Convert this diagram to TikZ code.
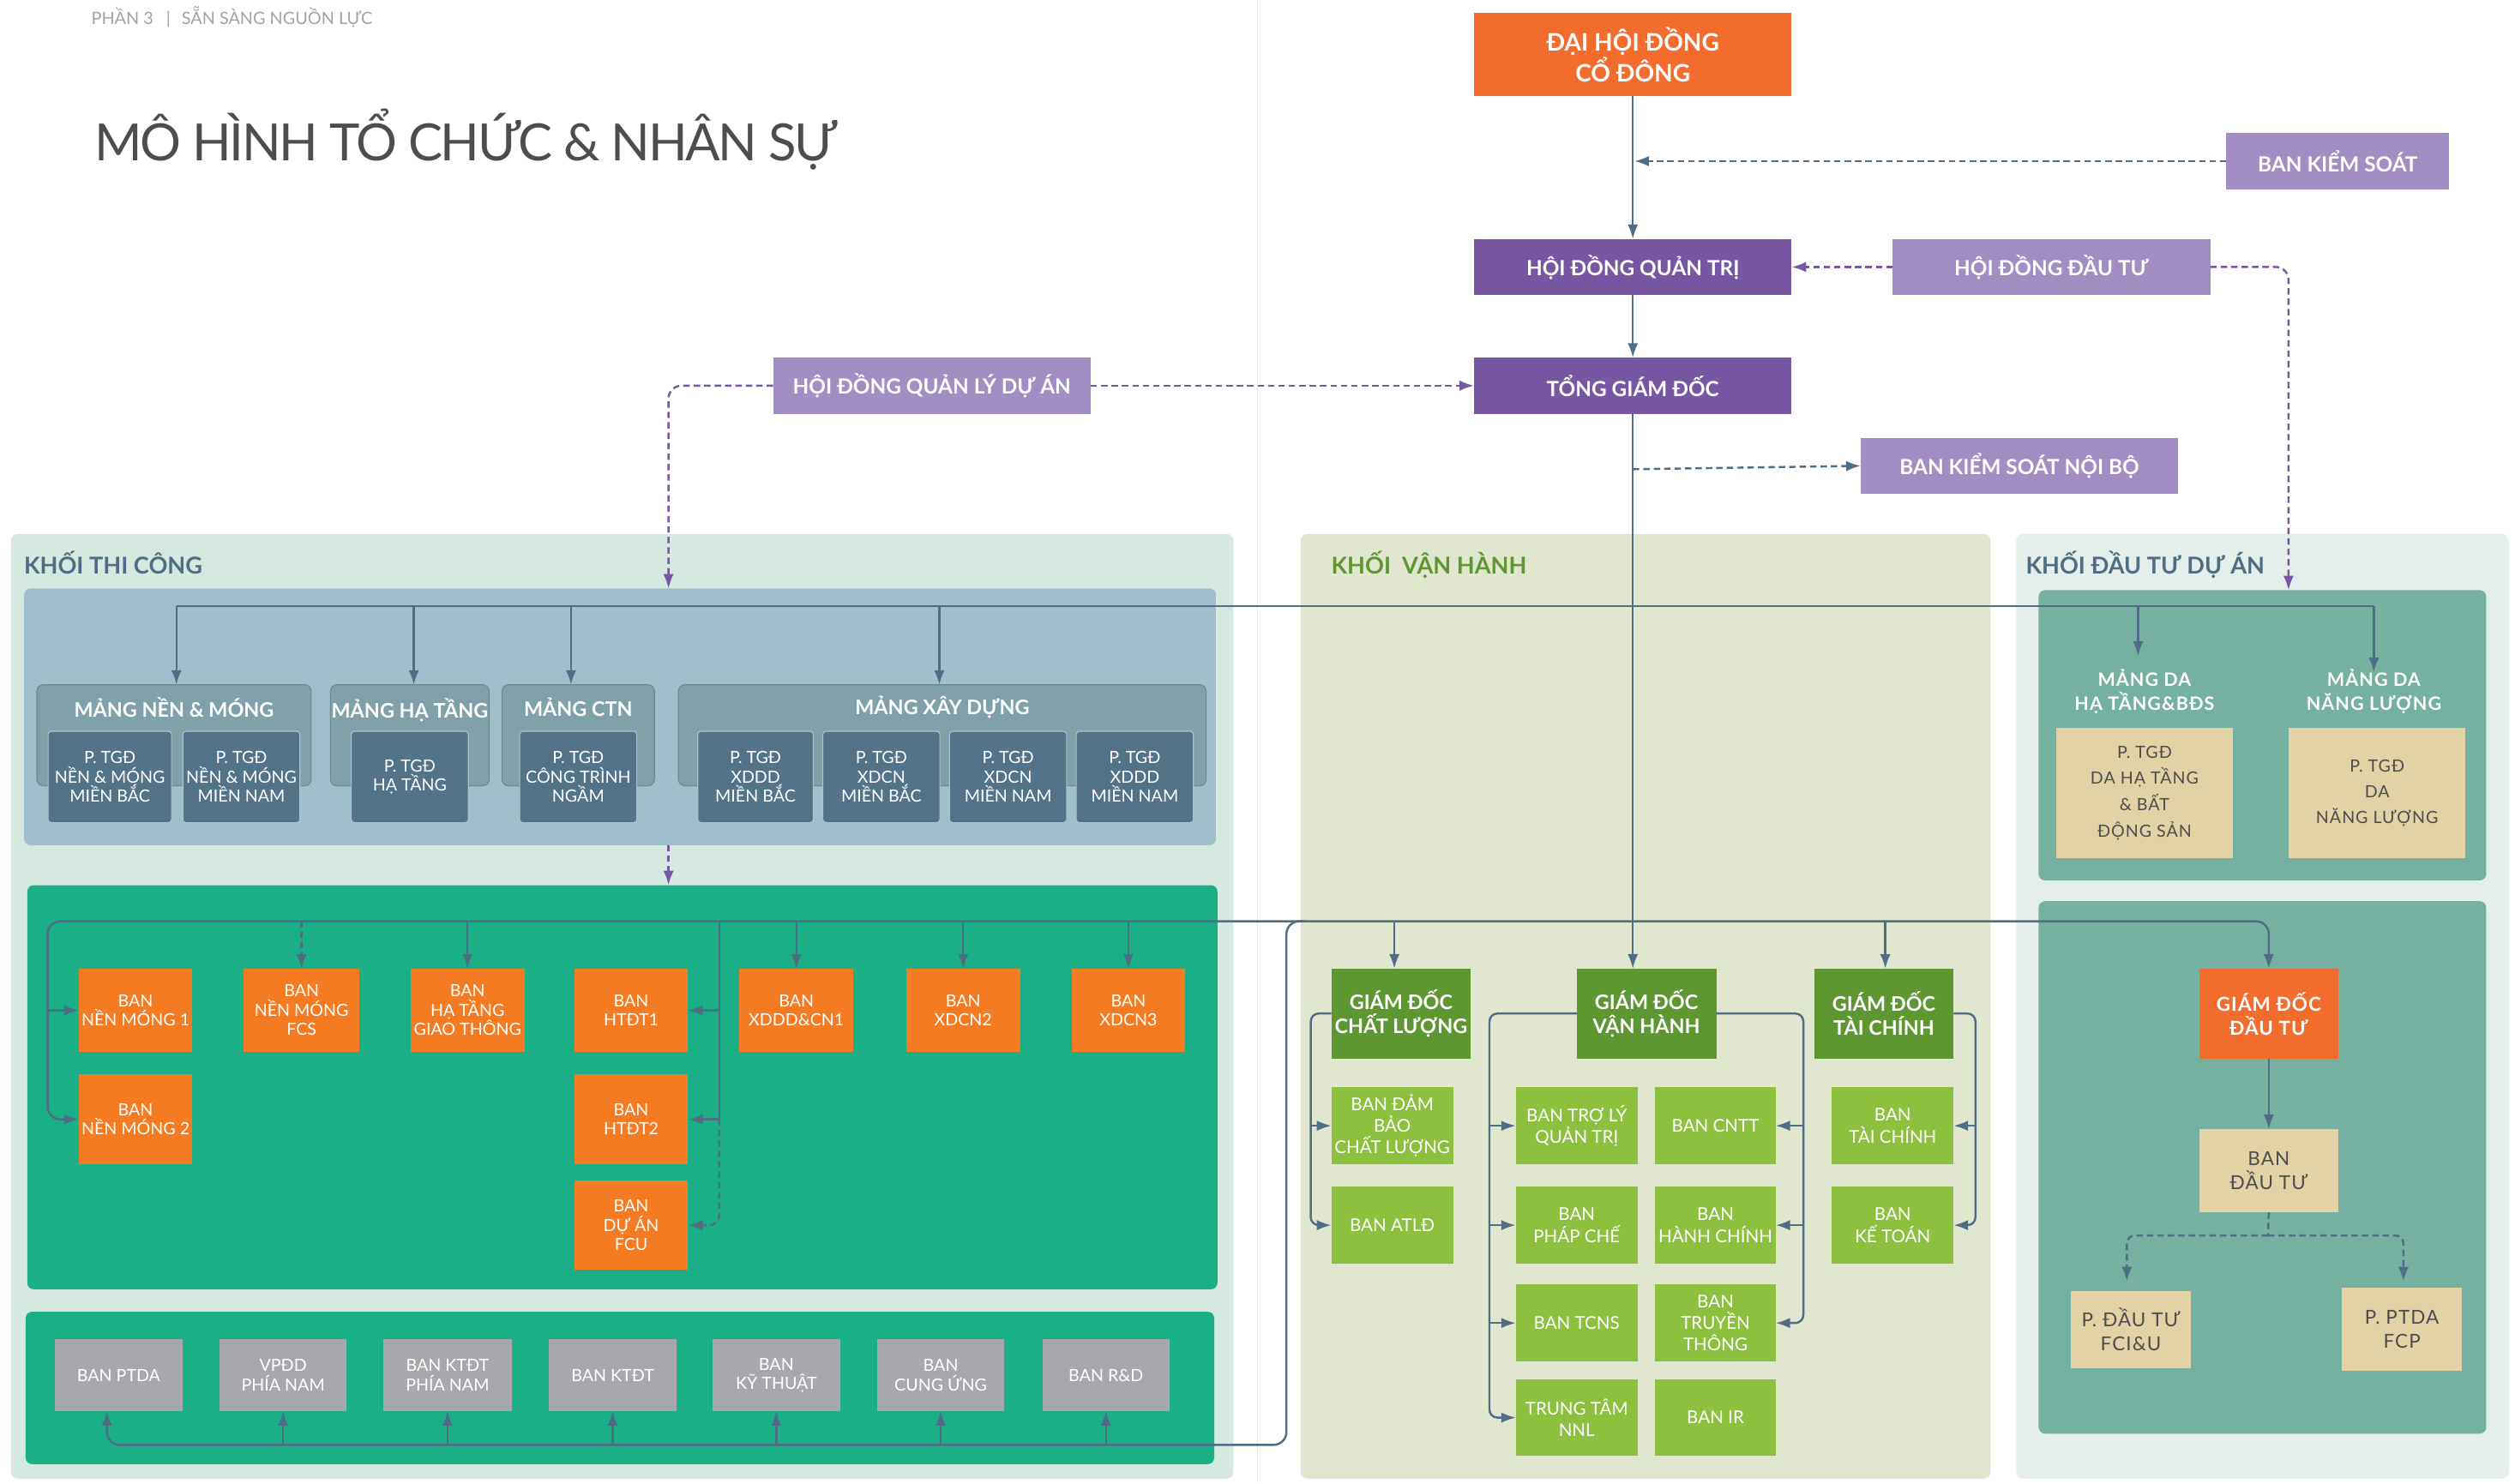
\documentclass[tikz,border=0pt]{standalone}
\usepackage{fontspec}
\setmainfont{Lato}
\newfontfamily\widelato[LetterSpace=5]{Lato}
\newfontfamily\titlelato[LetterSpace=-4]{Lato}
\usetikzlibrary{arrows.meta}

\definecolor{cOrange}{HTML}{F26C2D}
\definecolor{cPurple}{HTML}{7857A2}
\definecolor{cLilac}{HTML}{A28EC2}
\definecolor{cSlate}{HTML}{4F6D84}
\definecolor{cMint}{HTML}{D5E9E0}
\definecolor{cSteel}{HTML}{9EBFCB}
\definecolor{cGroup}{HTML}{80A1AA}
\definecolor{cDeep}{HTML}{537389}
\definecolor{cJade}{HTML}{1BAF87}
\definecolor{cTan}{HTML}{F47B22}
\definecolor{cAsh}{HTML}{A7A8AB}
\definecolor{cOlive}{HTML}{E1E6CF}
\definecolor{cForest}{HTML}{5E9732}
\definecolor{cLime}{HTML}{8DC03F}
\definecolor{cFog}{HTML}{E4EEEA}
\definecolor{cTeal}{HTML}{76B0A1}
\definecolor{cSand}{HTML}{E2D2A6}
\definecolor{cInk}{HTML}{4D4D4D}
\definecolor{cHead}{HTML}{A0A4A8}
\definecolor{cRule}{HTML}{E6E6E6}

\tikzset{
  every node/.style={inner sep=0pt,outer sep=0pt,align=center},
  blk/.style={rectangle,draw=none},
  cont/.style={rectangle,rounded corners=4pt},
  topbox/.style={blk,text=white,font=\fontsize{13}{16}\selectfont\bfseries},
  gdbox/.style={blk,fill=cForest,text=white,font=\fontsize{12.5}{15}\selectfont\bfseries},
  vhbox/.style={blk,fill=cLime,text=white,font=\fontsize{11}{13.5}\selectfont},
  banbox/.style={blk,fill=cTan,text=white,font=\fontsize{10.5}{12}\selectfont},
  auxbox/.style={blk,fill=cAsh,text=white,font=\fontsize{10.5}{12}\selectfont},
  ptgd/.style={rectangle,rounded corners=2pt,fill=cDeep,draw=white!55!cDeep,line width=0.6pt,text=white,font=\fontsize{10.5}{12}\selectfont},
  grp/.style={rectangle,rounded corners=4pt,fill=cGroup,draw=cGroup!85!black,line width=0.6pt},
  grptitle/.style={text=white,font=\fontsize{12.5}{15}\selectfont\bfseries},
  sandbox/.style={blk,fill=cSand,text=cInk,font=\widelato\fontsize{10.5}{16.5}\selectfont},
  blocklabel/.style={anchor=base west,font=\fontsize{14.5}{17}\selectfont\bfseries},
  ln/.style={draw=cSlate,line width=1.3pt},
  arw/.style={-{Latex[length=9pt,width=6.5pt]}},
  sdash/.style={ln,dash pattern=on 4pt off 2.5pt},
  pdash/.style={draw=cPurple,line width=1.3pt,dash pattern=on 4pt off 2.5pt},
}

% box from its corners: name, x1, y1, x2, y2, style, text
\newcommand\bx[7]{\node[#6,minimum width={(#4)-(#2)},minimum height={(#5)-(#3)}] (#1) at ({((#2)+(#4))/2},{((#3)+(#5))/2}) {#7};}

\begin{document}
\begin{tikzpicture}[x=1pt,y=-1pt]
\useasboundingbox (0,0) rectangle (1568,925);
\fill[white] (0,0) rectangle (1568,925);

% page fold rule
\draw[cRule,line width=0.8pt] (784,0) -- (784,925);

% heading
\node[anchor=base west,text=cHead,font=\fontsize{10.6}{12}\selectfont] (hdr) at (57,15.2) {PHẦN 3\hspace{8pt}|\hspace{7pt}SẴN SÀNG NGUỒN LỰC};
\node[anchor=base west,text=cInk,font=\titlelato\fontsize{32}{36}\selectfont] (title) at (59,100) {MÔ HÌNH TỔ CHỨC \& NHÂN SỰ};

% ---------- governance ----------
\bx{dhdcd}{919}{8}{1117}{60}{topbox,fill=cOrange,font=\fontsize{15}{17}\selectfont\bfseries}{ĐẠI HỘI ĐỒNG\\CỔ ĐÔNG}
\bx{hdqt}{919}{149}{1117}{184}{topbox,fill=cPurple}{HỘI ĐỒNG QUẢN TRỊ}
\bx{tgd}{919}{223}{1117}{258}{topbox,fill=cPurple}{TỔNG GIÁM ĐỐC}
\bx{bks}{1388}{83}{1527}{118}{topbox,fill=cLilac}{BAN KIỂM SOÁT}
\bx{hddt}{1180}{149}{1378}{184}{topbox,fill=cLilac}{HỘI ĐỒNG ĐẦU TƯ}
\bx{bksnb}{1160}{273}{1358}{308}{topbox,fill=cLilac}{BAN KIỂM SOÁT NỘI BỘ}
\bx{hdqlda}{482}{223}{680}{258}{topbox,fill=cLilac}{HỘI ĐỒNG QUẢN LÝ DỰ ÁN}

% ---------- block backgrounds ----------
\bx{ktc}{7}{333}{769}{922}{cont,fill=cMint}{}
\bx{kvh}{811}{333}{1241}{922}{cont,fill=cOlive}{}
\bx{kdt}{1257}{333}{1564}{922}{cont,fill=cFog}{}
\node[blocklabel,text=cSlate] (ktcL) at (15,358) {KHỐI THI CÔNG};
\node[blocklabel,text=cForest] (kvhL) at (830,358) {KHỐI \ VẬN HÀNH};
\node[blocklabel,text=cSlate] (kdtL) at (1263,358) {KHỐI ĐẦU TƯ DỰ ÁN};

\bx{steel}{15}{367}{758}{527}{cont,fill=cSteel}{}
\bx{jade}{17}{552}{759}{804}{cont,fill=cJade}{}
\bx{jade2}{16}{818}{757}{913}{cont,fill=cJade}{}
\bx{teal}{1271}{368}{1550}{549}{cont,fill=cTeal}{}
\bx{teal2}{1271}{562}{1550}{894}{cont,fill=cTeal}{}

% ---------- construction divisions ----------
\bx{mnm}{23}{427}{194}{490}{grp}{}
\bx{mht}{206}{427}{305}{490}{grp}{}
\bx{mctn}{313}{427}{408}{490}{grp}{}
\bx{mxd}{423}{427}{752}{490}{grp}{}
\node[grptitle] (mnmT) at (108.5,441) {MẢNG NỀN \& MÓNG};
\node[grptitle] (mhtT) at (255.5,443) {MẢNG HẠ TẦNG};
\node[grptitle] (mctnT) at (360.5,441) {MẢNG CTN};
\node[grptitle] (mxdT) at (587.5,441) {MẢNG XÂY DỰNG};

\bx{p1}{30}{456}{107}{513}{ptgd}{P. TGĐ\\NỀN \& MÓNG\\MIỀN BẮC}
\bx{p2}{114}{456}{187}{513}{ptgd}{P. TGĐ\\NỀN \& MÓNG\\MIỀN NAM}
\bx{p3}{219}{456}{292}{513}{ptgd}{P. TGĐ\\HẠ TẦNG}
\bx{p4}{324}{456}{397}{513}{ptgd}{P. TGĐ\\CÔNG TRÌNH\\NGẦM}
\bx{p5}{435}{456}{507}{513}{ptgd}{P. TGĐ\\XDDD\\MIỀN BẮC}
\bx{p6}{513}{456}{586}{513}{ptgd}{P. TGĐ\\XDCN\\MIỀN BẮC}
\bx{p7}{592}{456}{665}{513}{ptgd}{P. TGĐ\\XDCN\\MIỀN NAM}
\bx{p8}{671}{456}{744}{513}{ptgd}{P. TGĐ\\XDDD\\MIỀN NAM}

% project boards
\bx{nm1}{49}{604}{120}{656}{banbox}{BAN\\NỀN MÓNG 1}
\bx{nmfcs}{152}{604}{224}{656}{banbox}{BAN\\NỀN MÓNG\\FCS}
\bx{htgt}{256}{604}{327}{656}{banbox}{BAN\\HẠ TẦNG\\GIAO THÔNG}
\bx{htdt1}{358}{604}{429}{656}{banbox}{BAN\\HTĐT1}
\bx{xdcn1}{461}{604}{532}{656}{banbox}{BAN\\XDDD\&CN1}
\bx{xdcn2}{565}{604}{636}{656}{banbox}{BAN\\XDCN2}
\bx{xdcn3}{668}{604}{739}{656}{banbox}{BAN\\XDCN3}
\bx{nm2}{49}{670}{120}{726}{banbox}{BAN\\NỀN MÓNG 2}
\bx{htdt2}{358}{670}{429}{726}{banbox}{BAN\\HTĐT2}
\bx{fcu}{358}{736}{429}{792}{banbox}{BAN\\DỰ ÁN\\FCU}

% support boards
\bx{g1}{34}{835}{114}{880}{auxbox}{BAN PTDA}
\bx{g2}{137}{835}{216}{880}{auxbox}{VPĐD\\PHÍA NAM}
\bx{g3}{239}{835}{319}{880}{auxbox}{BAN KTĐT\\PHÍA NAM}
\bx{g4}{342}{835}{422}{880}{auxbox}{BAN KTĐT}
\bx{g5}{444}{835}{524}{880}{auxbox}{BAN\\KỸ THUẬT}
\bx{g6}{547}{835}{626}{880}{auxbox}{BAN\\CUNG ỨNG}
\bx{g7}{650}{835}{729}{880}{auxbox}{BAN R\&D}

% ---------- operations ----------
\bx{gdcl}{830}{604}{917}{660}{gdbox}{GIÁM ĐỐC\\CHẤT LƯỢNG}
\bx{gdvh}{983}{604}{1070}{660}{gdbox}{GIÁM ĐỐC\\VẬN HÀNH}
\bx{gdtc}{1131}{604}{1218}{660}{gdbox}{GIÁM ĐỐC\\TÀI CHÍNH}
\bx{dbcl}{830}{678}{906}{726}{vhbox}{BAN ĐẢM\\BẢO\\CHẤT LƯỢNG}
\bx{atld}{830}{740}{906}{788}{vhbox}{BAN ATLĐ}
\bx{tlqt}{945}{678}{1021}{726}{vhbox}{BAN TRỢ LÝ\\QUẢN TRỊ}
\bx{cntt}{1032}{678}{1107}{726}{vhbox}{BAN CNTT}
\bx{phche}{945}{740}{1021}{788}{vhbox}{BAN\\PHÁP CHẾ}
\bx{hchinh}{1032}{740}{1107}{788}{vhbox}{BAN\\HÀNH CHÍNH}
\bx{tcns}{945}{801}{1021}{849}{vhbox}{BAN TCNS}
\bx{tthong}{1032}{801}{1107}{849}{vhbox}{BAN\\TRUYỀN\\THÔNG}
\bx{nnl}{945}{860}{1021}{908}{vhbox}{TRUNG TÂM\\NNL}
\bx{banir}{1032}{860}{1107}{908}{vhbox}{BAN IR}
\bx{tchinh}{1142}{678}{1218}{726}{vhbox}{BAN\\TÀI CHÍNH}
\bx{ktoan}{1142}{740}{1218}{788}{vhbox}{BAN\\KẾ TOÁN}

% ---------- investment ----------
\node[text=white,font=\widelato\fontsize{11.5}{15}\selectfont\bfseries] (mdaht) at (1337,431) {MẢNG DA\\HẠ TẦNG\&BĐS};
\node[text=white,font=\widelato\fontsize{11.5}{15}\selectfont\bfseries] (mdanl) at (1480,431) {MẢNG DA\\NĂNG LƯỢNG};
\bx{pht}{1282}{454}{1392}{535}{sandbox}{P. TGĐ\\DA HẠ TẦNG\\\& BẤT\\ĐỘNG SẢN}
\bx{pnl}{1427}{454}{1537}{535}{sandbox,font=\widelato\fontsize{10.5}{16}\selectfont}{P. TGĐ\\DA\\NĂNG LƯỢNG}
\bx{gddt}{1371}{604}{1458}{660}{blk,fill=cOrange,text=white,font=\widelato\fontsize{12}{15}\selectfont\bfseries}{GIÁM ĐỐC\\ĐẦU TƯ}
\bx{bandt}{1371}{704}{1458}{756}{sandbox,font=\widelato\fontsize{12}{15}\selectfont}{BAN\\ĐẦU TƯ}
\bx{pfci}{1291}{805}{1366}{853}{sandbox,font=\widelato\fontsize{12}{15}\selectfont}{P. ĐẦU TƯ\\FCI\&U}
\bx{pfcp}{1460}{803}{1535}{855}{sandbox,font=\widelato\fontsize{12}{15}\selectfont}{P. PTDA\\FCP}

% ---------- connectors ----------
\coordinate (b1) at (0,378);
\coordinate (b2) at (29.7,574.5);
\coordinate (b3) at (802,901);
\coordinate (qx) at (416.8,0);
\coordinate (dx) at (1426.8,0);

% trunk
\draw[ln,arw] (dhdcd) -- (hdqt);
\draw[ln,arw] (hdqt) -- (tgd);
\draw[ln,arw] (tgd.south) -- (tgd.south |- gdvh.north);
\draw[sdash,arw,shorten >=1pt] (bks.west) -- (dhdcd.south |- bks.west);
\draw[sdash,arw] (tgd.south |- 0,292.6) -- (bksnb.west);
\draw[pdash,arw] (hddt.west) -- (hdqt.east);
\draw[pdash,arw] (hdqlda.east) -- (tgd.west);
\draw[pdash,arw,rounded corners=8pt] (hddt.east) -- (dx |- hddt.east) -- (dx |- teal.north);
\draw[pdash,arw,rounded corners=8pt] (hdqlda.west) -- (qx |- hdqlda.west) -- (qx |- steel.north);
\draw[pdash,arw] (qx |- steel.south) -- (qx |- jade.north);

% upper bus: divisions
\draw[ln] (110,378) -- (mdanl.north |- b1);
\draw[ln,arw] (110,378) -- (110,427);
\draw[ln,arw] (258,378) -- (258,427);
\draw[ln,arw] (356,378) -- (356,427);
\draw[ln,arw] (585.6,378) -- (585.6,427);
\draw[ln,arw] (1333,378) -- (1333,409);
\draw[ln,arw] (mdanl.north |- b1) -- ([yshift=-2pt]mdanl.north);

% lower bus: boards and directors
\draw[ln,{Latex[length=9pt,width=6.5pt]}-{Latex[length=9pt,width=6.5pt]},rounded corners=8pt]
  (nm2.west) -- (b2 |- nm2.west) -- (b2) -- (gddt.north |- b2) -- (gddt.north);
\draw[ln,arw] (b2 |- nm1.west) -- (nm1.west);
\draw[sdash,arw] (nmfcs.north |- b2) -- (nmfcs.north);
\foreach \n in {htgt,xdcn1,xdcn2,xdcn3}
  \draw[ln,arw] (\n.north |- b2) -- (\n.north);
\draw[ln,arw] (869.3,574.5) -- (869.3,604);
\draw[ln,arw] (1175.4,574.5) -- (1175.4,604);
\coordinate (v2) at (448.4,574.5);
\draw[ln] (v2) -- (v2 |- htdt2.east);
\draw[ln,arw] (v2 |- htdt1.east) -- (htdt1.east);
\draw[ln,arw] (v2 |- htdt2.east) -- (htdt2.east);
\draw[sdash,arw,rounded corners=6pt] (v2 |- htdt2.east) -- (v2 |- fcu.east) -- (fcu.east);

% support bus
\draw[ln,arw,rounded corners=8pt] ([xshift=12pt]b3 |- b2) -- (b3 |- b2) -- (b3) -- (66.7,901) -- (66.7,880);
\foreach \n in {g2,g3,g4,g5,g6,g7}
  \draw[ln,arw] (\n.south |- b3) -- (\n.south);

% operations wiring
\coordinate (clx) at (817.2,0);
\coordinate (vlx) at (928.6,0);
\coordinate (vrx) at (1124.3,0);
\coordinate (trx) at (1231.6,0);
\draw[ln,arw,rounded corners=5pt] (gdcl.west) -- (clx |- gdcl.west) -- (clx |- atld.west) -- (atld.west);
\draw[ln,arw] (clx |- dbcl.west) -- (dbcl.west);
\draw[ln,arw,rounded corners=5pt] (gdvh.west) -- (vlx |- gdvh.west) -- (vlx |- nnl.west) -- (nnl.west);
\foreach \n in {tlqt,phche,tcns}
  \draw[ln,arw] (vlx |- \n.west) -- (\n.west);
\draw[ln,arw,rounded corners=5pt] (gdvh.east) -- (vrx |- gdvh.east) -- (vrx |- tthong.east) -- (tthong.east);
\foreach \n in {cntt,hchinh}
  \draw[ln,arw] (vrx |- \n.east) -- (\n.east);
\draw[ln,arw,rounded corners=5pt] (gdtc.east) -- (trx |- gdtc.east) -- (trx |- ktoan.east) -- (ktoan.east);
\draw[ln,arw] (trx |- tchinh.east) -- (tchinh.east);

% investment wiring
\draw[ln,arw] (gddt) -- (bandt);
\coordinate (dj) at (1414,770.4);
\draw[sdash] (bandt.south) -- (dj);
\draw[sdash,arw,rounded corners=5pt] (dj) -- (1326,770.4) -- (1326,799);
\draw[sdash,arw,rounded corners=5pt] (dj) -- (1498.4,770.4) -- (1498.4,799);
\end{tikzpicture}
\end{document}
